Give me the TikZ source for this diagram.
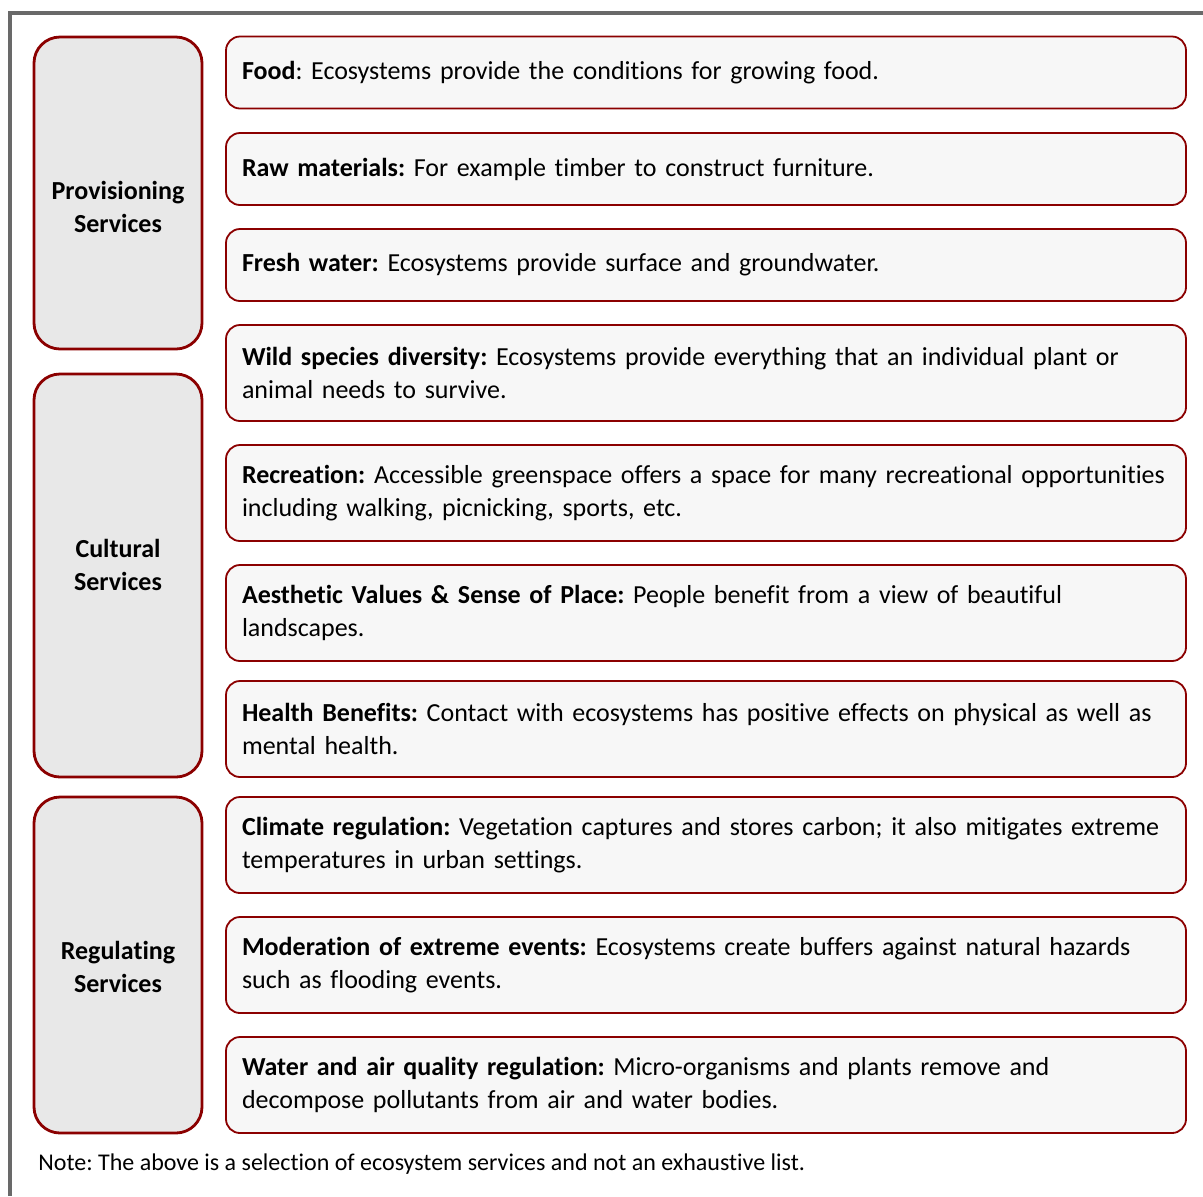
\documentclass[tikz,border=0pt]{standalone}
\usepackage{fontspec}
\setmainfont{Carlito}[Ligatures=NoCommon]
\frenchspacing
\usetikzlibrary{positioning}
\definecolor{boxred}{RGB}{139,0,0}
\definecolor{catfill}{RGB}{232,232,232}
\definecolor{itemfill}{RGB}{247,247,247}
\definecolor{framegray}{RGB}{105,105,105}

\begin{document}
\begin{tikzpicture}[
    x=0.5pt, y=-0.5pt,
    every node/.style={font=\fontsize{13}{16.75}\selectfont},
    category/.style={rectangle, rounded corners=13pt, draw=boxred, fill=catfill, line width=1.4pt, minimum width=84pt, inner sep=0pt},
    catlabel/.style={font=\fontsize{13}{16.75}\selectfont\bfseries, align=center, inner sep=0pt},
    service/.style={rectangle, rounded corners=7pt, draw=boxred, fill=itemfill, line width=0.9pt, text width=464pt, inner xsep=8pt, inner ysep=0pt, align=left},
    oneline/.style={service, minimum height=36pt},
    twoline/.style={service, minimum height=48pt},
    notetext/.style={font=\fontsize{12}{14.5}\selectfont, anchor=west, inner sep=0pt}
]
\useasboundingbox (0,0) rectangle (1203,1196);

% outer frame
\draw[framegray, line width=2pt] (1203,13) -- (10,13) -- (10,1196);

% Left column: categories
\node[category, minimum height=156pt] (prov) at (118,193) {};
\node[category, minimum height=201.5pt] (cult) at (118,575.5) {};
\node[category, minimum height=168pt] (regu) at (118,965) {};

\node[catlabel] (provlbl) at (118,207) {Provisioning\\Services};
\node[catlabel] (cultlbl) at (118,565) {Cultural\\Services};
\node[catlabel] (regulbl) at (118,967) {Regulating\\Services};

% Provisioning services
\node[oneline] (food) at (706,72.5) {\textbf{Food}: Ecosystems provide the conditions for growing food.};
\node[oneline] (raw) at (706,169) {\textbf{Raw materials:} For example timber to construct furniture.};
\node[oneline] (fresh) at (706,265) {\textbf{Fresh water:} Ecosystems provide surface and groundwater.};

% Cultural services
\node[twoline] (wild) at (706,373) {\textbf{Wild species diversity:} Ecosystems provide everything that an individual plant or\\animal needs to survive.};
\node[twoline] (recr) at (706,493) {\textbf{Recreation:} Accessible greenspace offers a space for many recreational opportunities\\including walking, picnicking, sports, etc.};
\node[twoline] (aest) at (706,613) {\textbf{Aesthetic Values \& Sense of Place:} People benefit from a view of beautiful\\landscapes.};
\node[twoline] (health) at (706,729) {\textbf{Health Benefits:} Contact with ecosystems has positive effects on physical as well as\\mental health.};

% Regulating services
\node[twoline] (climate) at (706,845) {\textbf{Climate regulation:} Vegetation captures and stores carbon; it also mitigates extreme\\temperatures in urban settings.};
\node[twoline] (moder) at (706,965) {\textbf{Moderation of extreme events:} Ecosystems create buffers against natural hazards\\such as flooding events.};
\node[twoline] (quality) at (706,1085) {\textbf{Water and air quality regulation:} Micro-organisms and plants remove and\\decompose pollutants from air and water bodies.};

% Footnote
\node[notetext] (note) at (38,1164) {Note: The above is a selection of ecosystem services and not an exhaustive list.};
\end{tikzpicture}
\end{document}
